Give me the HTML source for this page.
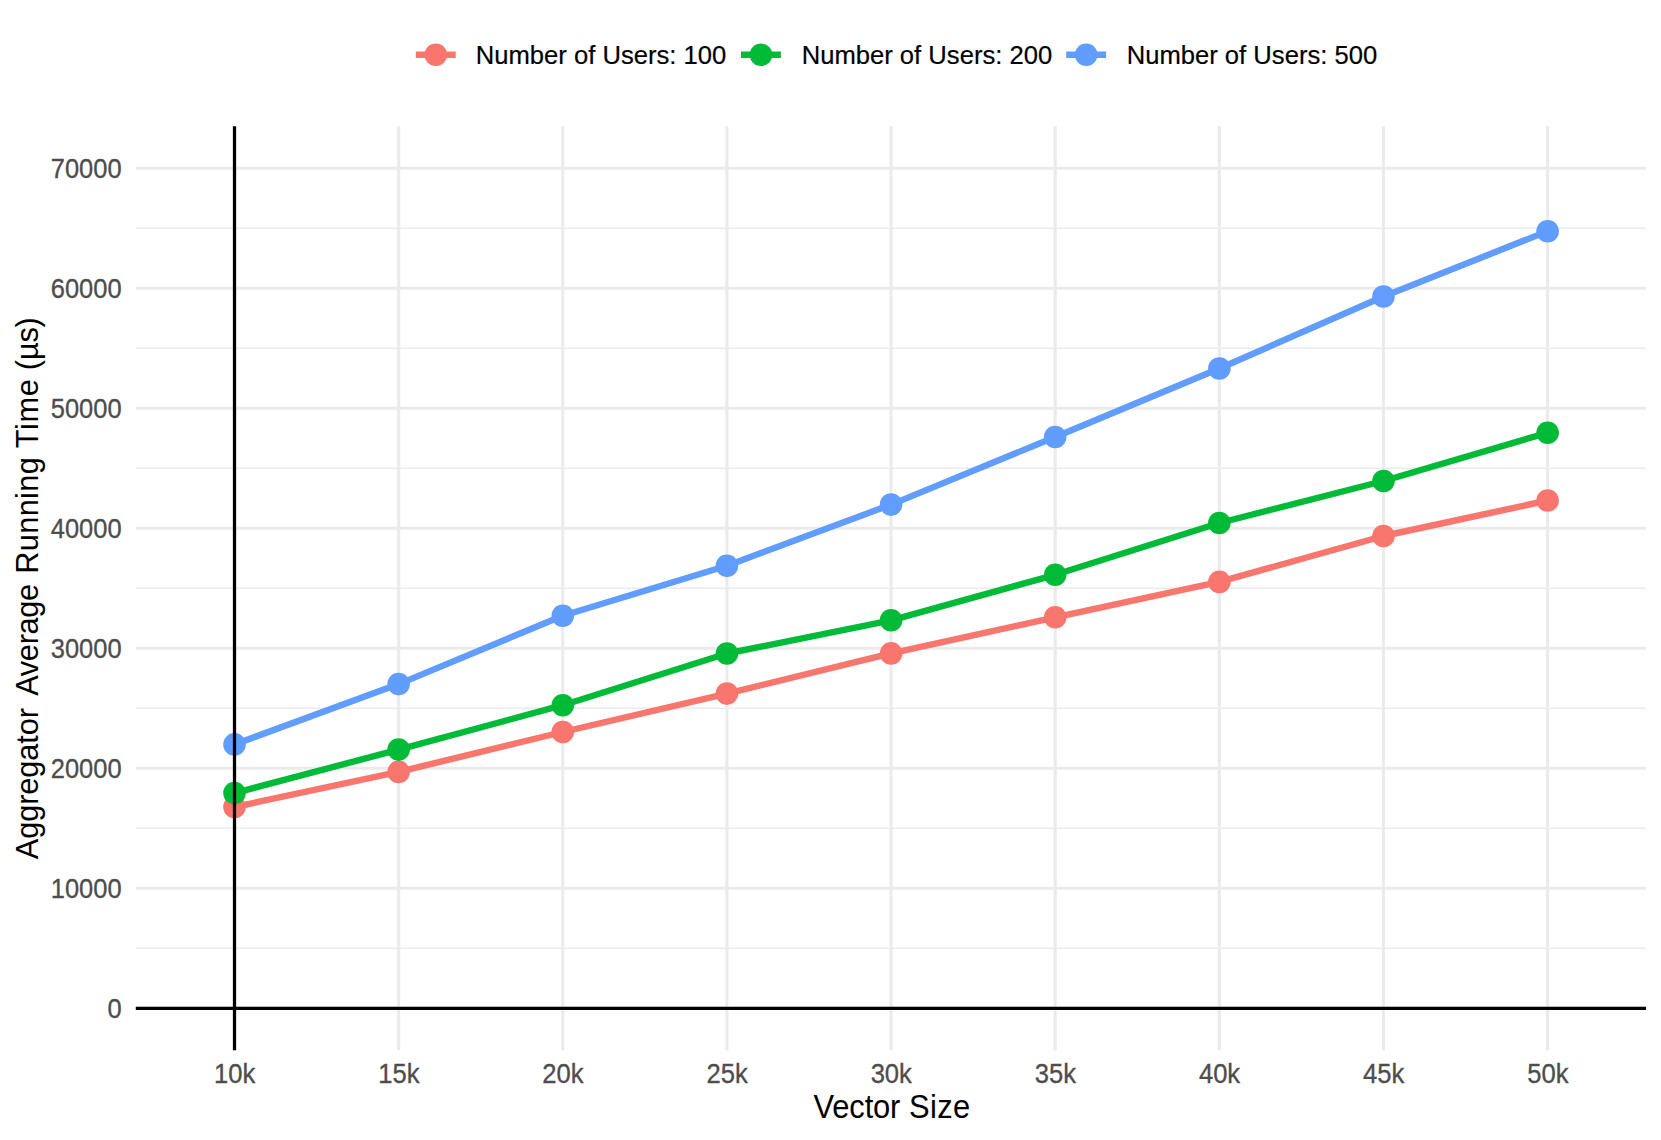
<!DOCTYPE html>
<html lang="en"><head><meta charset="utf-8"><title>Aggregator Average Running Time</title>
<style>html,body{margin:0;padding:0;background:#fff;overflow:hidden;width:1661px;height:1140px}svg{display:block}</style></head>
<body>
<svg width="1661" height="1140" viewBox="0 0 1661 1140">
<rect width="1661" height="1140" fill="#fff"/>
<g stroke="#EBEBEB" stroke-width="1.55" fill="none">
<line x1="135.8" x2="1646.0" y1="948.30" y2="948.30"/>
<line x1="135.8" x2="1646.0" y1="828.30" y2="828.30"/>
<line x1="135.8" x2="1646.0" y1="708.30" y2="708.30"/>
<line x1="135.8" x2="1646.0" y1="588.30" y2="588.30"/>
<line x1="135.8" x2="1646.0" y1="468.30" y2="468.30"/>
<line x1="135.8" x2="1646.0" y1="348.30" y2="348.30"/>
<line x1="135.8" x2="1646.0" y1="228.30" y2="228.30"/>
</g>
<g stroke="#EBEBEB" stroke-width="3.1" fill="none">
<line x1="135.8" x2="1646.0" y1="1008.30" y2="1008.30"/>
<line x1="135.8" x2="1646.0" y1="888.30" y2="888.30"/>
<line x1="135.8" x2="1646.0" y1="768.30" y2="768.30"/>
<line x1="135.8" x2="1646.0" y1="648.30" y2="648.30"/>
<line x1="135.8" x2="1646.0" y1="528.30" y2="528.30"/>
<line x1="135.8" x2="1646.0" y1="408.30" y2="408.30"/>
<line x1="135.8" x2="1646.0" y1="288.30" y2="288.30"/>
<line x1="135.8" x2="1646.0" y1="168.30" y2="168.30"/>
<line x1="234.50" x2="234.50" y1="126.2" y2="1050.3"/>
<line x1="398.64" x2="398.64" y1="126.2" y2="1050.3"/>
<line x1="562.78" x2="562.78" y1="126.2" y2="1050.3"/>
<line x1="726.92" x2="726.92" y1="126.2" y2="1050.3"/>
<line x1="891.06" x2="891.06" y1="126.2" y2="1050.3"/>
<line x1="1055.20" x2="1055.20" y1="126.2" y2="1050.3"/>
<line x1="1219.34" x2="1219.34" y1="126.2" y2="1050.3"/>
<line x1="1383.48" x2="1383.48" y1="126.2" y2="1050.3"/>
<line x1="1547.62" x2="1547.62" y1="126.2" y2="1050.3"/>
</g>
<polyline points="234.50,807.00 398.64,771.90 562.78,732.00 726.92,693.60 891.06,653.40 1055.20,617.30 1219.34,581.90 1383.48,536.00 1547.62,500.50" fill="none" stroke="#F8766D" stroke-width="6.4" stroke-linejoin="round" stroke-linecap="butt"/>
<polyline points="234.50,793.10 398.64,749.60 562.78,705.20 726.92,653.50 891.06,620.30 1055.20,574.80 1219.34,523.00 1383.48,481.00 1547.62,432.70" fill="none" stroke="#00BA38" stroke-width="6.4" stroke-linejoin="round" stroke-linecap="butt"/>
<polyline points="234.50,744.40 398.64,684.10 562.78,615.70 726.92,565.70 891.06,504.60 1055.20,437.00 1219.34,368.50 1383.48,296.50 1547.62,231.20" fill="none" stroke="#619CFF" stroke-width="6.4" stroke-linejoin="round" stroke-linecap="butt"/>
<g fill="#F8766D">
<circle cx="234.50" cy="807.00" r="11.3"/>
<circle cx="398.64" cy="771.90" r="11.3"/>
<circle cx="562.78" cy="732.00" r="11.3"/>
<circle cx="726.92" cy="693.60" r="11.3"/>
<circle cx="891.06" cy="653.40" r="11.3"/>
<circle cx="1055.20" cy="617.30" r="11.3"/>
<circle cx="1219.34" cy="581.90" r="11.3"/>
<circle cx="1383.48" cy="536.00" r="11.3"/>
<circle cx="1547.62" cy="500.50" r="11.3"/>
</g>
<g fill="#00BA38">
<circle cx="234.50" cy="793.10" r="11.3"/>
<circle cx="398.64" cy="749.60" r="11.3"/>
<circle cx="562.78" cy="705.20" r="11.3"/>
<circle cx="726.92" cy="653.50" r="11.3"/>
<circle cx="891.06" cy="620.30" r="11.3"/>
<circle cx="1055.20" cy="574.80" r="11.3"/>
<circle cx="1219.34" cy="523.00" r="11.3"/>
<circle cx="1383.48" cy="481.00" r="11.3"/>
<circle cx="1547.62" cy="432.70" r="11.3"/>
</g>
<g fill="#619CFF">
<circle cx="234.50" cy="744.40" r="11.3"/>
<circle cx="398.64" cy="684.10" r="11.3"/>
<circle cx="562.78" cy="615.70" r="11.3"/>
<circle cx="726.92" cy="565.70" r="11.3"/>
<circle cx="891.06" cy="504.60" r="11.3"/>
<circle cx="1055.20" cy="437.00" r="11.3"/>
<circle cx="1219.34" cy="368.50" r="11.3"/>
<circle cx="1383.48" cy="296.50" r="11.3"/>
<circle cx="1547.62" cy="231.20" r="11.3"/>
</g>
<line x1="135.8" x2="1646.0" y1="1008.3" y2="1008.3" stroke="#000" stroke-width="3.25"/>
<line x1="234.5" x2="234.5" y1="126.2" y2="1050.3" stroke="#000" stroke-width="3.25"/>
<g font-family="Liberation Sans, Arial, sans-serif" font-size="25.6" fill="#4D4D4D" stroke="#4D4D4D" stroke-width="0.3">
<text transform="translate(121.6,1017.75) scale(0.995,1.06)" text-anchor="end">0</text>
<text transform="translate(121.6,897.75) scale(0.995,1.06)" text-anchor="end">10000</text>
<text transform="translate(121.6,777.75) scale(0.995,1.06)" text-anchor="end">20000</text>
<text transform="translate(121.6,657.75) scale(0.995,1.06)" text-anchor="end">30000</text>
<text transform="translate(121.6,537.75) scale(0.995,1.06)" text-anchor="end">40000</text>
<text transform="translate(121.6,417.75) scale(0.995,1.06)" text-anchor="end">50000</text>
<text transform="translate(121.6,297.75) scale(0.995,1.06)" text-anchor="end">60000</text>
<text transform="translate(121.6,177.75) scale(0.995,1.06)" text-anchor="end">70000</text>
<text transform="translate(234.70,1083.0) scale(1.0,1.05)" text-anchor="middle">10k</text>
<text transform="translate(398.84,1083.0) scale(1.0,1.05)" text-anchor="middle">15k</text>
<text transform="translate(562.98,1083.0) scale(1.0,1.05)" text-anchor="middle">20k</text>
<text transform="translate(727.12,1083.0) scale(1.0,1.05)" text-anchor="middle">25k</text>
<text transform="translate(891.26,1083.0) scale(1.0,1.05)" text-anchor="middle">30k</text>
<text transform="translate(1055.40,1083.0) scale(1.0,1.05)" text-anchor="middle">35k</text>
<text transform="translate(1219.54,1083.0) scale(1.0,1.05)" text-anchor="middle">40k</text>
<text transform="translate(1383.68,1083.0) scale(1.0,1.05)" text-anchor="middle">45k</text>
<text transform="translate(1547.82,1083.0) scale(1.0,1.05)" text-anchor="middle">50k</text>
</g>
<g font-family="Liberation Sans, Arial, sans-serif" font-size="32" fill="#000">
<text transform="translate(813.76,1117.8) scale(0.965,1.03)"><tspan x="-0.20" letter-spacing="-0.145">Vector</tspan> <tspan x="98.75" letter-spacing="0.337">Size</tspan></text>
<text transform="translate(38.1,859.1) rotate(-90) scale(0.962,0.985)"><tspan x="-0.10" letter-spacing="-0.116">Aggregator</tspan> <tspan x="169.75" letter-spacing="-0.347">Average</tspan> <tspan x="296.67" letter-spacing="0.321">Running</tspan> <tspan x="427.16" letter-spacing="0.650">Time</tspan> <tspan x="508.29" letter-spacing="-0.219">(µs)</tspan></text>
</g>
<g font-family="Liberation Sans, Arial, sans-serif" font-size="25.6" fill="#000" stroke="#000" stroke-width="0.2">
<line x1="415.80" x2="455.70" y1="54.8" y2="54.8" stroke="#F8766D" stroke-width="6.4"/>
<circle cx="435.80" cy="54.8" r="11.3" fill="#F8766D" stroke="none"/>
<text transform="translate(475.75,64.0) scale(1.001,1.02)">Number of Users: 100</text>
<line x1="741.00" x2="780.90" y1="54.8" y2="54.8" stroke="#00BA38" stroke-width="6.4"/>
<circle cx="761.00" cy="54.8" r="11.3" fill="#00BA38" stroke="none"/>
<text transform="translate(801.65,64.0) scale(1.001,1.02)">Number of Users: 200</text>
<line x1="1066.20" x2="1106.10" y1="54.8" y2="54.8" stroke="#619CFF" stroke-width="6.4"/>
<circle cx="1086.20" cy="54.8" r="11.3" fill="#619CFF" stroke="none"/>
<text transform="translate(1126.65,64.0) scale(1.001,1.02)">Number of Users: 500</text>
</g>
</svg>
</body></html>
